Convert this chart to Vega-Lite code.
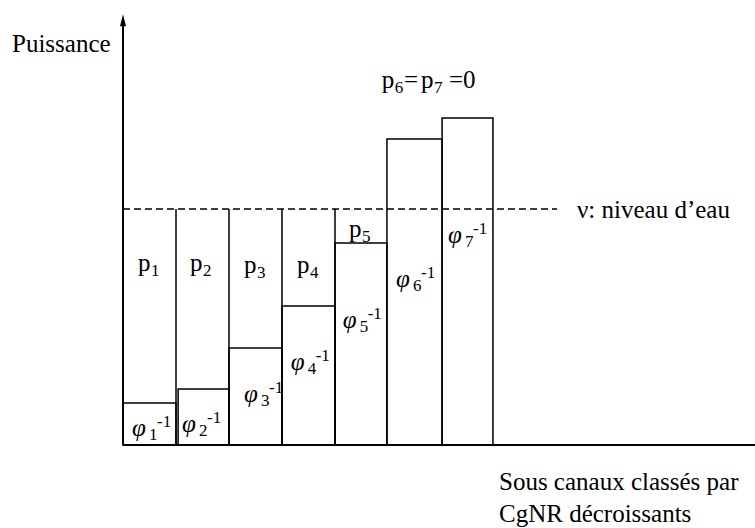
{
  "$schema": "https://vega.github.io/schema/vega-lite/v6.json",
  "width": 755,
  "height": 528,
  "autosize": {"type": "none"},
  "padding": 0,
  "background": "white",
  "config": {
    "view": {"stroke": null},
    "text": {"color": "black", "align": "left", "baseline": "alphabetic"}
  },
  "datasets": {
    "canaux": [
      {"canal": 1, "x0": 0, "x1": 1, "bas": 0, "phi": 1.78},
      {"canal": 2, "x0": 1.04, "x1": 2, "bas": 0, "phi": 2.37},
      {"canal": 3, "x0": 2, "x1": 3, "bas": 0, "phi": 4.11},
      {"canal": 4, "x0": 3, "x1": 4, "bas": 0, "phi": 5.89},
      {"canal": 5, "x0": 4, "x1": 4.98, "bas": 0, "phi": 8.56},
      {"canal": 6, "x0": 4.98, "x1": 6.02, "bas": 0, "phi": 12.97},
      {"canal": 7, "x0": 6.02, "x1": 6.98, "bas": 0, "phi": 13.86}
    ],
    "traits": [
      {"nom": "niveau", "x": 0, "x2": 8.19, "y": 10, "y2": 10},
      {"nom": "bord", "x": 1, "x2": 1, "y": 0, "y2": 10},
      {"nom": "bord", "x": 2, "x2": 2, "y": 0, "y2": 10},
      {"nom": "bord", "x": 3, "x2": 3, "y": 0, "y2": 10},
      {"nom": "bord", "x": 4, "x2": 4, "y": 0, "y2": 10},
      {"nom": "axe", "x": 0, "x2": 0, "y": 0, "y2": 18.0},
      {"nom": "axe", "x": 0, "x2": 11.93, "y": 0, "y2": 0}
    ],
    "fleche": [{"x": 0, "y": 18.0}],
    "etiquettes": [
      {"kind": "p", "x": 0.283, "y": 7.37, "main": "p", "sub": "1"},
      {"kind": "p", "x": 1.264, "y": 7.37, "main": "p", "sub": "2"},
      {"kind": "p", "x": 2.283, "y": 7.30, "main": "p", "sub": "3"},
      {"kind": "p", "x": 3.283, "y": 7.30, "main": "p", "sub": "4"},
      {"kind": "p", "x": 4.264, "y": 8.81, "main": "p", "sub": "5"},
      {"kind": "p", "x": 4.881, "y": 15.127, "main": "p", "sub": "6"},
      {"kind": "p", "x": 5.623, "y": 15.127, "main": "p", "sub": "7"},
      {"kind": "phi", "x": 0.170, "y": 0.381, "main": "φ", "sub": "1", "sup": "-1"},
      {"kind": "phi", "x": 1.113, "y": 0.564, "main": "φ", "sub": "2", "sup": "-1"},
      {"kind": "phi", "x": 2.283, "y": 1.835, "main": "φ", "sub": "3", "sup": "-1"},
      {"kind": "phi", "x": 3.164, "y": 3.178, "main": "φ", "sub": "4", "sup": "-1"},
      {"kind": "phi", "x": 4.145, "y": 4.958, "main": "φ", "sub": "5", "sup": "-1"},
      {"kind": "phi", "x": 5.151, "y": 6.708, "main": "φ", "sub": "6", "sup": "-1"},
      {"kind": "phi", "x": 6.132, "y": 8.547, "main": "φ", "sub": "7", "sup": "-1"}
    ],
    "textes": [
      {"x": -2.094, "y": 16.67, "t": "Puissance"},
      {"x": 8.566, "y": 9.606, "t": "ν: niveau d’eau"},
      {"x": 5.302, "y": 15.127, "t": "="},
      {"x": 6.151, "y": 15.127, "t": "=0"},
      {"x": 7.094, "y": -1.907, "t": "Sous canaux classés par"},
      {"x": 7.094, "y": -3.263, "t": "CgNR décroissants"}
    ]
  },
  "layer": [
    {
      "data": {"name": "traits"},
      "transform": [{"filter": "datum.nom == 'niveau'"}],
      "mark": {"type": "rule", "stroke": "black", "strokeWidth": 1.3, "strokeDash": [7, 4]},
      "encoding": {
        "x": {"field": "x", "type": "quantitative", "scale": {"domain": [-2.3208, 11.9245], "nice": false, "zero": false}, "axis": null},
        "x2": {"field": "x2"},
        "y": {"field": "y", "type": "quantitative", "scale": {"domain": [-3.5169, 18.8559], "nice": false, "zero": false}, "axis": null},
        "y2": {"field": "y2"}
      }
    },
    {
      "data": {"name": "traits"},
      "transform": [{"filter": "datum.nom == 'bord'"}],
      "mark": {"type": "rule", "stroke": "black", "strokeWidth": 1.5},
      "encoding": {
        "x": {"field": "x", "type": "quantitative", "axis": null},
        "x2": {"field": "x2"},
        "y": {"field": "y", "type": "quantitative", "axis": null},
        "y2": {"field": "y2"}
      }
    },
    {
      "data": {"name": "canaux"},
      "mark": {"type": "rect", "fill": null, "fillOpacity": 0, "stroke": "black", "strokeWidth": 1.5},
      "encoding": {
        "x": {"field": "x0", "type": "quantitative", "axis": null},
        "x2": {"field": "x1"},
        "y": {"field": "bas", "type": "quantitative", "axis": null},
        "y2": {"field": "phi"}
      }
    },
    {
      "data": {"name": "traits"},
      "transform": [{"filter": "datum.nom == 'axe'"}],
      "mark": {"type": "rule", "stroke": "black", "strokeWidth": 2},
      "encoding": {
        "x": {"field": "x", "type": "quantitative", "axis": null},
        "x2": {"field": "x2"},
        "y": {"field": "y", "type": "quantitative", "axis": null},
        "y2": {"field": "y2"}
      }
    },
    {
      "data": {"name": "fleche"},
      "mark": {"type": "point", "shape": "M-0.5,1L0,-1L0.5,1Z", "size": 144, "filled": true, "fill": "black", "opacity": 1, "strokeWidth": 0},
      "encoding": {
        "x": {"field": "x", "type": "quantitative", "axis": null},
        "y": {"field": "y", "type": "quantitative", "axis": null}
      }
    },
    {
      "data": {"name": "textes"},
      "mark": {"type": "text", "font": "'Liberation Serif', 'Times New Roman', serif", "fontSize": 25},
      "encoding": {
        "x": {"field": "x", "type": "quantitative", "axis": null},
        "y": {"field": "y", "type": "quantitative", "axis": null},
        "text": {"field": "t"}
      }
    },
    {
      "data": {"name": "etiquettes"},
      "transform": [{"filter": "datum.kind == 'p'"}],
      "mark": {"type": "text", "font": "'Liberation Serif', 'Times New Roman', serif", "fontSize": 25},
      "encoding": {
        "x": {"field": "x", "type": "quantitative", "axis": null},
        "y": {"field": "y", "type": "quantitative", "axis": null},
        "text": {"field": "main"}
      }
    },
    {
      "data": {"name": "etiquettes"},
      "transform": [{"filter": "datum.kind == 'p'"}],
      "mark": {"type": "text", "font": "'Liberation Serif', 'Times New Roman', serif", "fontSize": 17, "dx": 13, "dy": 5},
      "encoding": {
        "x": {"field": "x", "type": "quantitative", "axis": null},
        "y": {"field": "y", "type": "quantitative", "axis": null},
        "text": {"field": "sub"}
      }
    },
    {
      "data": {"name": "etiquettes"},
      "transform": [{"filter": "datum.kind == 'phi'"}],
      "mark": {"type": "text", "font": "'Liberation Serif', 'Times New Roman', serif", "fontSize": 25, "fontStyle": "italic"},
      "encoding": {
        "x": {"field": "x", "type": "quantitative", "axis": null},
        "y": {"field": "y", "type": "quantitative", "axis": null},
        "text": {"field": "main"}
      }
    },
    {
      "data": {"name": "etiquettes"},
      "transform": [{"filter": "datum.kind == 'phi'"}],
      "mark": {"type": "text", "font": "'Liberation Serif', 'Times New Roman', serif", "fontSize": 17, "dx": 17, "dy": 4},
      "encoding": {
        "x": {"field": "x", "type": "quantitative", "axis": null},
        "y": {"field": "y", "type": "quantitative", "axis": null},
        "text": {"field": "sub"}
      }
    },
    {
      "data": {"name": "etiquettes"},
      "transform": [{"filter": "datum.kind == 'phi'"}],
      "mark": {"type": "text", "font": "'Liberation Serif', 'Times New Roman', serif", "fontSize": 17, "dx": 25, "dy": -9},
      "encoding": {
        "x": {"field": "x", "type": "quantitative", "axis": null},
        "y": {"field": "y", "type": "quantitative", "axis": null},
        "text": {"field": "sup"}
      }
    }
  ]
}
